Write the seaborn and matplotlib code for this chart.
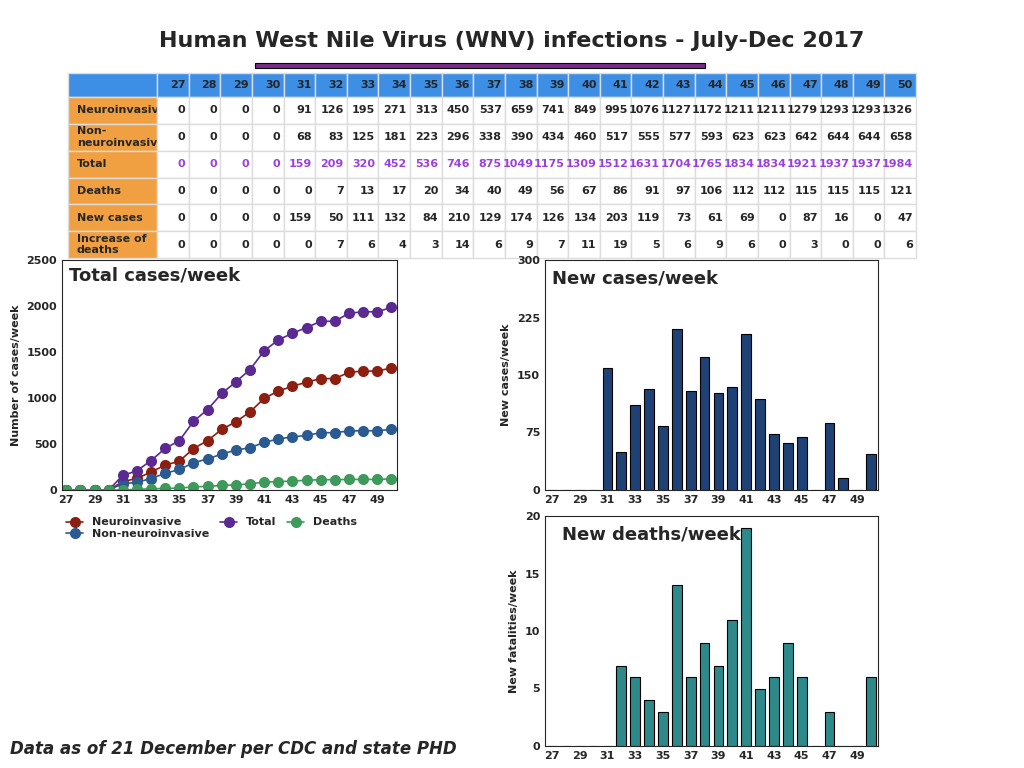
import numpy as np
import pandas as pd
import matplotlib
matplotlib.use('Agg')
import matplotlib.pyplot as plt
import seaborn as sns

weeks = list(range(27, 51))
neuro = [0, 0, 0, 0, 91, 126, 195, 271, 313, 450, 537, 659, 741, 849, 995, 1076, 1127, 1172, 1211, 1211, 1279, 1293, 1293, 1326]
non_neuro = [0, 0, 0, 0, 68, 83, 125, 181, 223, 296, 338, 390, 434, 460, 517, 555, 577, 593, 623, 623, 642, 644, 644, 658]
total = [0, 0, 0, 0, 159, 209, 320, 452, 536, 746, 875, 1049, 1175, 1309, 1512, 1631, 1704, 1765, 1834, 1834, 1921, 1937, 1937, 1984]
deaths = [0, 0, 0, 0, 0, 7, 13, 17, 20, 34, 40, 49, 56, 67, 86, 91, 97, 106, 112, 112, 115, 115, 115, 121]
new_cases = [0, 0, 0, 0, 159, 50, 111, 132, 84, 210, 129, 174, 126, 134, 203, 119, 73, 61, 69, 0, 87, 16, 0, 47]
new_deaths = [0, 0, 0, 0, 0, 7, 6, 4, 3, 14, 6, 9, 7, 11, 19, 5, 6, 9, 6, 0, 3, 0, 0, 6]
row_labels = ['Neuroinvasive', 'Non-\nneuroinvasive', 'Total', 'Deaths', 'New cases', 'Increase of\ndeaths']

sns.set_style('ticks')
plt.rcParams['font.family'] = ['DejaVu Sans']
plt.rcParams['font.weight'] = 'bold'

fig = plt.figure(figsize=(10.24, 7.68), dpi=100)
W, H = 1024, 768
def rect(x0, y0, x1, y1):
    return [x0 / W, 1 - y1 / H, (x1 - x0) / W, (y1 - y0) / H]

fig.text(0.5, 1 - 41 / H, 'Human West Nile Virus (WNV) infections - July-Dec 2017',
         ha='center', va='center', fontsize=16, fontweight='bold')
fig.add_artist(plt.Rectangle((255 / W, 1 - 68 / H), 450 / W, 5 / H, color='#7a2a8a', ec='black', lw=0.8))

# table
tax = fig.add_axes(rect(68, 73, 916, 258))
tax.axis('off')
cells = [[''] + [str(w) for w in weeks]]
for lab, vals in zip(row_labels, [neuro, non_neuro, total, deaths, new_cases, new_deaths]):
    cells.append([lab] + [str(v) for v in vals])
tbl = tax.table(cellText=cells, loc='center', bbox=[0, 0, 1, 1], cellLoc='right')
tbl.auto_set_font_size(False)
tbl.set_fontsize(8)
nrows, ncols = len(cells), len(cells[0])
heights = [0.13] + [0.145] * 6
for r in range(nrows):
    for c in range(ncols):
        cell = tbl[(r, c)]
        cell.set_edgecolor('#dddddd')
        cell.set_width(0.105 if c == 0 else 0.895 / 24)
        cell.set_height(heights[r] / sum(heights))
        cell.get_text().set_fontweight('bold')
        if r == 0:
            cell.set_facecolor('#3d8fe6')
        elif c == 0:
            cell.set_facecolor('#f0a040')
            cell.get_text().set_ha('left')
            cell._loc = 'left'
        if r == 3 and c > 0:
            cell.get_text().set_color('#9a40e0')

# total cases line chart
ax1 = fig.add_axes(rect(62, 260, 397, 490))
df = pd.DataFrame({'week': weeks, 'Neuroinvasive': neuro, 'Non-neuroinvasive': non_neuro,
                   'Total': total, 'Deaths': deaths})
colors = {'Neuroinvasive': '#8b2012', 'Non-neuroinvasive': '#2a5a90', 'Total': '#5a2a90', 'Deaths': '#3d9a5a'}
for name in ['Neuroinvasive', 'Non-neuroinvasive', 'Total', 'Deaths']:
    sns.lineplot(data=df, x='week', y=name, ax=ax1, marker='o', markersize=8, markeredgewidth=0,
                 color=colors[name], label=name, lw=1.2)
ax1.set_xlim(26.7, 50.4)
ax1.set_ylim(0, 2500)
ax1.set_xticks(range(27, 50, 2))
ax1.set_yticks([0, 500, 1000, 1500, 2000, 2500])
ax1.set_xlabel('')
ax1.set_ylabel('Number of cases/week', fontsize=8, fontweight='bold')
ax1.tick_params(labelsize=8, length=0)
ax1.text(0.02, 0.97, 'Total cases/week', transform=ax1.transAxes, fontsize=13, fontweight='bold', va='top')
ax1.legend(loc='upper left', bbox_to_anchor=(0.0, -0.1), ncol=3, frameon=False, fontsize=8,
           handlelength=1.5, columnspacing=1.0, borderaxespad=0, labelspacing=0.1)

def bars(ax, vals, color, ymax, yticks, ylabel, title, tx):
    d = pd.DataFrame({'week': weeks, 'v': vals})
    sns.barplot(data=d, x='week', y='v', ax=ax, native_scale=True, color=color,
                edgecolor='black', linewidth=0.8, width=0.7, saturation=1)
    ax.set_xlim(26.5, 50.5)
    ax.set_ylim(0, ymax)
    ax.set_xticks(range(27, 50, 2))
    ax.set_yticks(yticks)
    ax.set_xlabel('')
    ax.set_ylabel(ylabel, fontsize=8, fontweight='bold')
    ax.tick_params(labelsize=8, length=0)
    ax.text(tx, 0.96, title, transform=ax.transAxes, fontsize=13, fontweight='bold', va='top')

ax2 = fig.add_axes(rect(545, 260, 878, 490))
bars(ax2, new_cases, '#1f4276', 300, [0, 75, 150, 225, 300], 'New cases/week', 'New cases/week', 0.02)
ax3 = fig.add_axes(rect(545, 516, 878, 746))
bars(ax3, new_deaths, '#2e8a8a', 20, [0, 5, 10, 15, 20], 'New fatalities/week', 'New deaths/week', 0.05)

fig.text(10 / W, 1 - 749 / H, 'Data as of 21 December per CDC and state PHD', fontsize=12,
         fontweight='bold', style='italic', va='center')

fig.savefig('out.png', dpi=100)
